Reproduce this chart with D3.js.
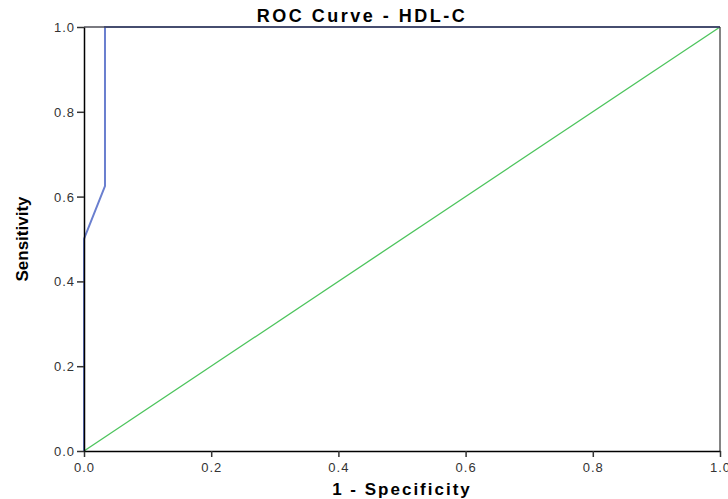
<!DOCTYPE html>
<html>
<head>
<meta charset="utf-8">
<script src="https://cdn.jsdelivr.net/npm/d3@7"></script>
<style>
  body { margin: 0; background: #fff; }
  text { font-family: "Liberation Sans", Arial, sans-serif; }
</style>
</head>
<body>
<div id="chart"></div>
<script>
// ROC data
var rocFpr = [0, 0, 0.033, 0.033, 1];
var rocTpr = [0, 0.5, 0.625, 1, 1];
var refFpr = [0, 1];
var refTpr = [0, 1];
var tickValues = [0, 0.2, 0.4, 0.6, 0.8, 1.0];

var margin = { top: 27, right: 8, bottom: 48, left: 84 },
    width = 728 - margin.left - margin.right,
    height = 499 - margin.top - margin.bottom;

var svg = d3.select('#chart').append('svg')
    .attr('width', 728)
    .attr('height', 499);

var g = svg.append('g')
    .attr('transform', 'translate(' + margin.left + ',' + margin.top + ')');

var x = d3.scaleLinear().domain([0, 1]).range([0, width]);
var y = d3.scaleLinear().domain([0, 1]).range([height, 0]);

// reference diagonal
var line = d3.line()
    .x(function (d) { return x(d[0]); })
    .y(function (d) { return y(d[1]); });

g.append('path')
    .datum(d3.zip(refFpr, refTpr))
    .attr('d', line)
    .attr('fill', 'none')
    .attr('stroke', '#4cc45c')
    .attr('stroke-width', 1.3);

// ROC curve
g.append('path')
    .datum(d3.zip(rocFpr, rocTpr))
    .attr('d', line)
    .attr('fill', 'none')
    .attr('stroke', '#6a7fcf')
    .attr('stroke-width', 2);

// frame top / right
g.append('line')
    .attr('x1', 0).attr('x2', width).attr('y1', 0).attr('y2', 0)
    .attr('stroke', 'rgba(50,50,60,0.65)').attr('stroke-width', 2);
g.append('line')
    .attr('x1', width).attr('x2', width).attr('y1', 0).attr('y2', height)
    .attr('stroke', 'rgba(50,50,50,0.6)').attr('stroke-width', 2);

// axes
var xAxis = g.append('g')
    .attr('transform', 'translate(0,' + height + ')')
    .call(d3.axisBottom(x).tickValues(tickValues).tickFormat(d3.format('.1f')).tickSize(6).tickSizeOuter(0));
var yAxis = g.append('g')
    .call(d3.axisLeft(y).tickValues(tickValues).tickFormat(d3.format('.1f')).tickSize(7).tickSizeOuter(0));

[xAxis, yAxis].forEach(function (a) {
    a.select('.domain').attr('stroke', '#000').attr('stroke-width', 1.5);
    a.selectAll('.tick line').attr('stroke', '#333').attr('stroke-width', 1.5);
    a.selectAll('.tick text')
        .attr('fill', '#333')
        .style('font-size', '13px')
        .style('letter-spacing', '1px')
        .style('font-family', '"Liberation Sans", Arial, sans-serif');
});
xAxis.selectAll('.tick text').attr('dy', '0.95em');
yAxis.selectAll('.tick text').attr('x', -9).attr('dy', '0.35em');

// title
svg.append('text')
    .attr('x', 362).attr('y', 22)
    .attr('text-anchor', 'middle')
    .style('font-size', '18px')
    .style('font-weight', 'bold')
    .style('letter-spacing', '2.5px')
    .text('ROC Curve - HDL-C');

// axis labels
svg.append('text')
    .attr('x', margin.left + width / 2).attr('y', 495)
    .attr('text-anchor', 'middle')
    .style('font-size', '17px')
    .style('font-weight', 'bold')
    .style('letter-spacing', '2px')
    .text('1 - Specificity');

svg.append('text')
    .attr('transform', 'translate(28,' + (margin.top + height / 2) + ') rotate(-90)')
    .attr('text-anchor', 'middle')
    .style('font-family', '"Liberation Sans Narrow", "Liberation Sans", Arial, sans-serif')
    .style('font-size', '17px')
    .style('font-weight', 'bold')
    .text('Sensitivity');
</script>
</body>
</html>
